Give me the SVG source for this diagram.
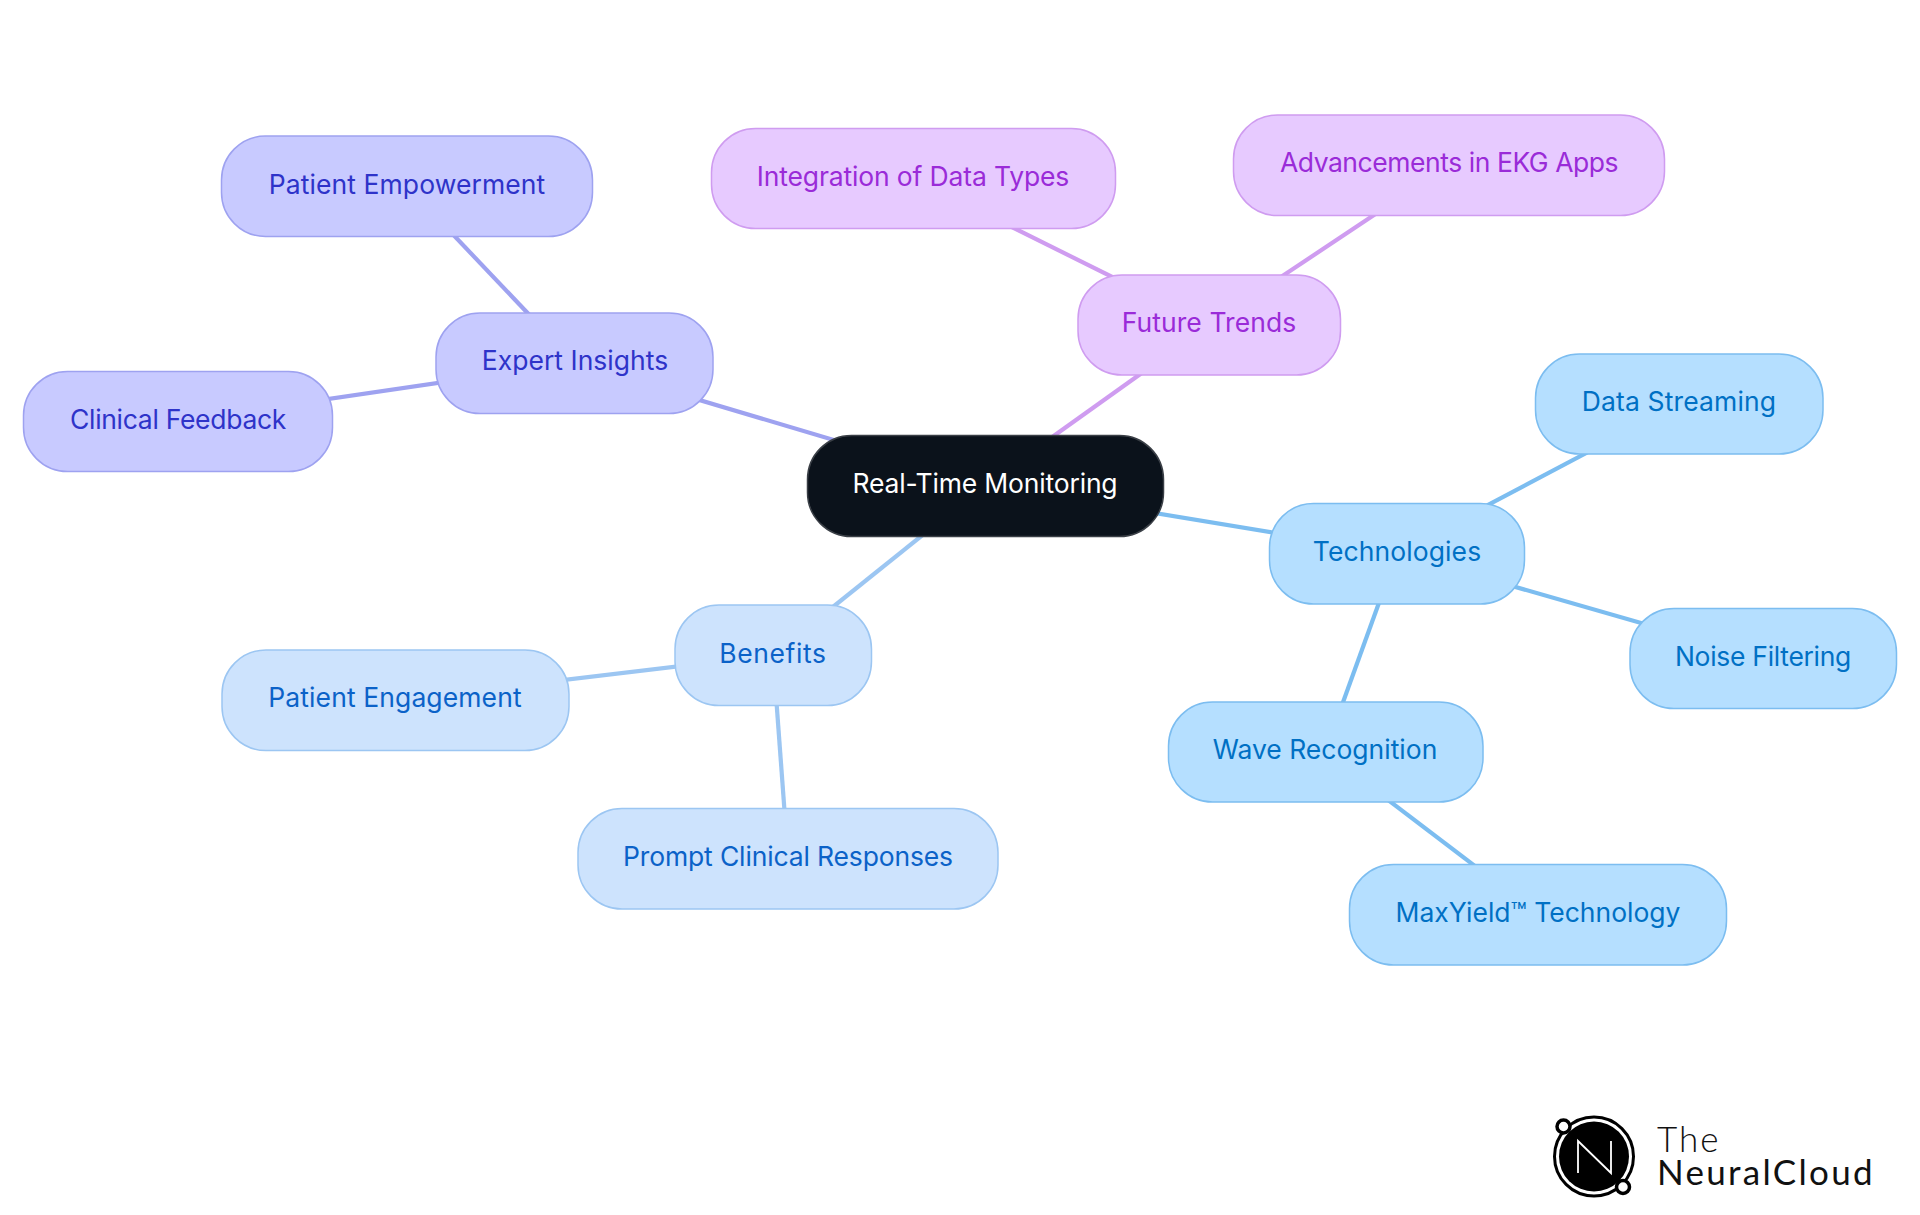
<svg xmlns="http://www.w3.org/2000/svg" width="1920" height="1215" viewBox="0 0 1920 1215">
<style>
.n rect{stroke-width:1.5}
.n text{font-family:Inter,"Noto Sans",sans-serif;font-size:26.5px;text-anchor:middle}
.p rect{fill:#c8caff;stroke:#9ea2f0}.p text{fill:#2e33c9}
.f rect{fill:#e7caff;stroke:#cf9cf0}.f text{fill:#9a2bd8}
.t rect{fill:#b5dfff;stroke:#7cbdf0}.t text{fill:#0070c4}
.b rect{fill:#cde3fd;stroke:#9cc6f2}.b text{fill:#0b62c8}
#connectors line{stroke-width:4.2;fill:none}
</style>
<rect width="1920" height="1215" fill="#fff"/>
<g id="connectors">
<line x1="985" y1="485" x2="575" y2="363" stroke="#9ea2f0"/>
<line x1="575" y1="363" x2="407" y2="186" stroke="#9ea2f0"/>
<line x1="575" y1="363" x2="178" y2="421" stroke="#9ea2f0"/>
<line x1="985" y1="485" x2="1209" y2="325" stroke="#cf9cf0"/>
<line x1="1209" y1="325" x2="913" y2="178" stroke="#cf9cf0"/>
<line x1="1209" y1="325" x2="1449" y2="165" stroke="#cf9cf0"/>
<line x1="985" y1="485" x2="1397" y2="553" stroke="#7cbdf0"/>
<line x1="1397" y1="553" x2="1679" y2="404" stroke="#7cbdf0"/>
<line x1="1397" y1="553" x2="1763" y2="658" stroke="#7cbdf0"/>
<line x1="1397" y1="553" x2="1325" y2="752" stroke="#7cbdf0"/>
<line x1="1325" y1="752" x2="1538" y2="914" stroke="#7cbdf0"/>
<line x1="985" y1="485" x2="773" y2="655" stroke="#9cc6f2"/>
<line x1="773" y1="655" x2="395" y2="700" stroke="#9cc6f2"/>
<line x1="773" y1="655" x2="788" y2="858" stroke="#9cc6f2"/>
</g>
<g id="root" class="n"><rect x="807.500" y="435.500" width="356" height="101" rx="44" fill="#0b121b" stroke="#3a3f46"/><text x="985" y="493" fill="#fff" letter-spacing="-.18">Real-Time Monitoring</text></g>
<g id="expert" class="n p"><rect x="436" y="313" width="277" height="100.500" rx="44"/><text x="575" y="370" letter-spacing=".03">Expert Insights</text></g>
<g id="empower" class="n p"><rect x="221.500" y="136" width="371" height="100.500" rx="44"/><text x="407" y="194" letter-spacing=".09">Patient Empowerment</text></g>
<g id="clinical" class="n p"><rect x="23.500" y="371.500" width="309" height="100" rx="44"/><text x="178" y="429" letter-spacing="-.3">Clinical Feedback</text></g>
<g id="future" class="n f"><rect x="1078" y="275" width="262.500" height="100" rx="44"/><text x="1209" y="332" letter-spacing=".08">Future Trends</text></g>
<g id="integration" class="n f"><rect x="711.500" y="128.500" width="404" height="100" rx="44"/><text x="913" y="186" letter-spacing="-.15">Integration of Data Types</text></g>
<g id="ekg" class="n f"><rect x="1233.500" y="115" width="431" height="100.500" rx="44"/><text x="1449" y="172" letter-spacing="-.45">Advancements in EKG Apps</text></g>
<g id="tech" class="n t"><rect x="1269.500" y="503.500" width="255" height="100.500" rx="44"/><text x="1397" y="561" letter-spacing=".1">Technologies</text></g>
<g id="stream" class="n t"><rect x="1535.500" y="354" width="287.500" height="100" rx="44"/><text x="1679" y="411" letter-spacing=".14">Data Streaming</text></g>
<g id="noise" class="n t"><rect x="1630" y="608.500" width="266.500" height="100" rx="44"/><text x="1763" y="666" letter-spacing="-.3">Noise Filtering</text></g>
<g id="wave" class="n t"><rect x="1168.500" y="702" width="314.500" height="100" rx="44"/><text x="1325" y="759">Wave Recognition</text></g>
<g id="maxyield" class="n t"><rect x="1349.500" y="864.500" width="377" height="100.500" rx="44"/><text x="1538" y="922">MaxYield™ Technology</text></g>
<g id="benefits" class="n b"><rect x="675" y="605" width="196.500" height="100.500" rx="44"/><text x="773" y="663" letter-spacing=".6">Benefits</text></g>
<g id="engage" class="n b"><rect x="222" y="650" width="347" height="100.500" rx="44"/><text x="395" y="707" letter-spacing=".1">Patient Engagement</text></g>
<g id="prompt" class="n b"><rect x="578" y="808.500" width="420" height="100.500" rx="44"/><text x="788" y="866" letter-spacing="-.15">Prompt Clinical Responses</text></g>
<g id="logo">
<circle cx="1594" cy="1156.500" r="39.500" fill="#fff" stroke="#000" stroke-width="3"/>
<circle cx="1594" cy="1156.500" r="35" fill="#000"/>
<path d="M1578 1173V1141L1611 1173V1141" fill="none" stroke="#fff" stroke-width="1.8"/>
<circle cx="1563.500" cy="1126.500" r="6.500" fill="#fff" stroke="#000" stroke-width="3.500"/>
<circle cx="1623" cy="1187" r="6.500" fill="#fff" stroke="#000" stroke-width="3.500"/>
<text x="1657" y="1152" font-family="Lato,sans-serif" font-size="35" font-weight="300" letter-spacing="2" fill="#111">The</text>
<text x="1657" y="1185" font-family="Lato,sans-serif" font-size="35" letter-spacing="2.3" fill="#111">NeuralCloud</text>
</g>
</svg>
